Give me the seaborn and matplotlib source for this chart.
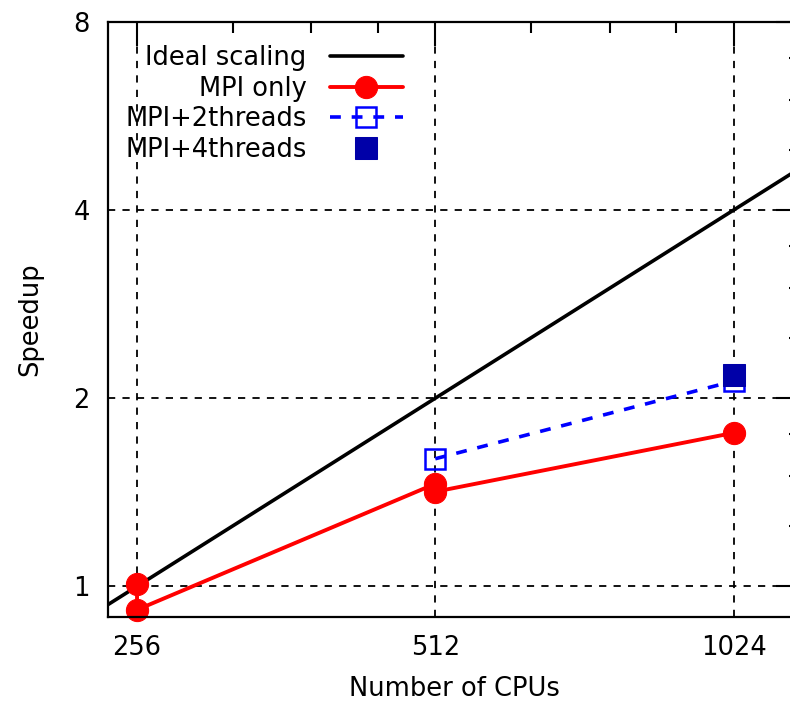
"""Speedup vs number of CPUs, gnuplot-like log-log chart."""

import matplotlib

matplotlib.use("Agg")
import matplotlib.pyplot as plt
import pandas as pd
import seaborn as sns

# ideal line passes through the whole frame, clipped by the axes
IDEAL_CPUS = [128, 256, 512, 1024, 2048]
IDEAL_SPEEDUP = [0.5, 1, 2, 4, 8]

MPI_CPUS = [256, 256, 512, 512, 1024]
MPI_SPEEDUP = [1.01, 0.917, 1.459, 1.417, 1.76]

MPI2_CPUS = [512, 1024]
MPI2_SPEEDUP = [1.60, 2.13]

MPI4_CPUS = [1024]
MPI4_SPEEDUP = [2.18]

X_TICKS = [256, 512, 1024]
X_TICK_LABELS = ["256", "512", "1024"]
X_MINOR = [320, 384, 448, 640, 768, 896]
Y_TICKS = [1, 2, 4, 8]
Y_TICK_LABELS = ["1", "2", "4", "8"]
Y_MINOR = [1.25, 1.5, 1.75, 2.5, 3, 3.5, 5, 6, 7]


def main() -> None:
    sns.set_style("white")
    plt.rcParams["font.family"] = ["DejaVu Sans"]
    fontsize = 18.5

    figure = plt.figure(figsize=(7.9, 7.03), dpi=100)
    axis = figure.add_axes([108 / 790, 86 / 703, 692 / 790, 595 / 703])

    ideal = pd.DataFrame({"cpus": IDEAL_CPUS, "speedup": IDEAL_SPEEDUP})
    mpi = pd.DataFrame({"cpus": MPI_CPUS, "speedup": MPI_SPEEDUP})
    mpi2 = pd.DataFrame({"cpus": MPI2_CPUS, "speedup": MPI2_SPEEDUP})
    mpi4 = pd.DataFrame({"cpus": MPI4_CPUS, "speedup": MPI4_SPEEDUP})

    sns.lineplot(
        data=ideal, x="cpus", y="speedup", estimator=None, sort=False,
        color="black", linewidth=2.6, label="Ideal scaling", ax=axis,
    )
    sns.lineplot(
        data=mpi, x="cpus", y="speedup", estimator=None, sort=False,
        color="#ff0000", linewidth=2.8, marker="o", markersize=16,
        markeredgecolor="#ff0000", label="MPI only", clip_on=False, ax=axis,
    )
    sns.lineplot(
        data=mpi2, x="cpus", y="speedup", estimator=None, sort=False,
        color="#0000ff", linewidth=2.6, dashes=(3, 3), marker="s",
        markersize=15, markerfacecolor="none", markeredgecolor="#0000ff",
        markeredgewidth=1.8, label="MPI+2threads", ax=axis,
    )
    sns.lineplot(
        data=mpi4, x="cpus", y="speedup", estimator=None, sort=False,
        color="#0000a8", linestyle="", marker="s", markersize=16,
        markeredgecolor="#0000a8", label="MPI+4threads", ax=axis,
    )

    axis.set_xscale("log", base=2)
    axis.set_yscale("log", base=2)
    axis.set_xlim(239.3, 1195)
    axis.set_ylim(0.893, 8)

    axis.set_xticks(X_TICKS)
    axis.set_xticklabels(X_TICK_LABELS)
    axis.set_xticks(X_MINOR, minor=True)
    axis.set_xticklabels([""] * len(X_MINOR), minor=True)
    axis.set_yticks(Y_TICKS)
    axis.set_yticklabels(Y_TICK_LABELS)
    axis.set_yticks(Y_MINOR, minor=True)
    axis.set_yticklabels([""] * len(Y_MINOR), minor=True)

    axis.tick_params(
        which="both", direction="in", top=True, right=True,
        color="black", labelsize=fontsize, labelcolor="black",
    )
    axis.tick_params(which="major", length=17, width=1.5, pad=13)
    axis.tick_params(which="minor", length=8, width=1.5)
    axis.grid(True, which="major", color="black", linestyle=(0, (4, 4)),
              linewidth=1.3)
    axis.grid(False, which="minor")
    for spine in axis.spines.values():
        spine.set_color("black")
        spine.set_linewidth(1.6)

    axis.set_xlabel("Number of CPUs", fontsize=fontsize, labelpad=11,
                    color="black")
    axis.set_ylabel("Speedup", fontsize=fontsize, labelpad=22, color="black")

    legend = axis.legend(
        loc="upper right", bbox_to_anchor=(0.4263, 0.961), frameon=False,
        markerfirst=False, handlelength=2.85, handletextpad=0.9,
        labelspacing=0.18, borderpad=0, borderaxespad=0, fontsize=fontsize,
    )
    for text in legend.get_texts():
        text.set_color("black")

    figure.savefig("out.png", dpi=100)
    plt.close(figure)


if __name__ == "__main__":
    main()
